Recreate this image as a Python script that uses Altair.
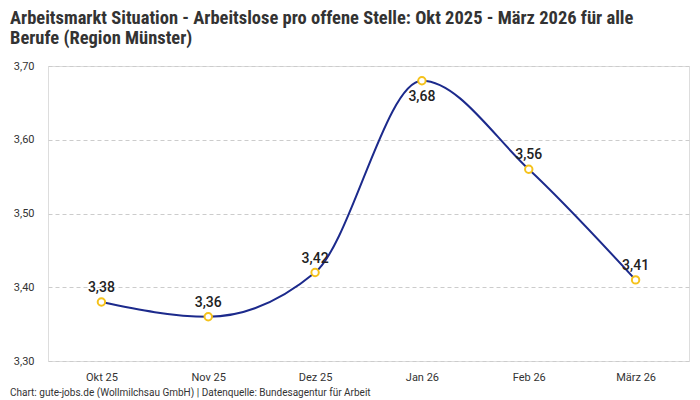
import altair as alt
import pandas as pd

months = ["Okt 25", "Nov 25", "Dez 25", "Jan 26", "Feb 26", "März 26"]
values = [3.38, 3.36, 3.42, 3.68, 3.56, 3.41]
label_pos = ["above", "above", "above", "below", "above", "above"]
y_ticks = [3.30, 3.40, 3.50, 3.60, 3.70]

title_lines = [
    "Arbeitsmarkt Situation - Arbeitslose pro offene Stelle: Okt 2025 - März 2026 für alle",
    "Berufe (Region Münster)",
]
footer = "Chart: gute-jobs.de (Wollmilchsau GmbH) | Datenquelle: Bundesagentur für Arbeit"

df = pd.DataFrame({"Monat": months, "Wert": values, "pos": label_pos})

BODY = "Roboto"
W, H = 641, 295

x = alt.X("Monat:N", sort=months, title=None,
          scale=alt.Scale(type="point", padding=0.5),
          axis=alt.Axis(labelAngle=0, labelFontSize=11, labelColor="#333333",
                        labelFont=BODY, domain=False, ticks=False, labelPadding=10,
                        grid=False))
y = alt.Y("Wert:Q", title=None,
          scale=alt.Scale(domain=[3.30, 3.70], nice=False, zero=False),
          axis=alt.Axis(values=y_ticks, labelExpr="replace(format(datum.value, '.2f'), '.', ',')",
                        labelFontSize=11, labelColor="#333333", labelFont=BODY,
                        domain=False, ticks=False, labelPadding=14,
                        grid=True, gridColor="#cccccc", gridDash=[4, 3], gridWidth=1))

base = alt.Chart(df).encode(x=x, y=y)

line = base.mark_line(interpolate="monotone", color="#1c2a8c", strokeWidth=2)
points = base.mark_point(shape="circle", filled=False, fill="white", fillOpacity=1,
                         stroke="#f5c21b", strokeWidth=2, size=55, opacity=1)

lab = base.transform_calculate(
    txt="replace(format(datum.Wert, '.2f'), '.', ',')"
)
labels_above = lab.transform_filter("datum.pos == 'above'").mark_text(
    dy=-14, fontSize=14, font=BODY, fontWeight=500, color="#222222"
).encode(text="txt:N")
labels_below = lab.transform_filter("datum.pos == 'below'").mark_text(
    dy=16, fontSize=14, font=BODY, fontWeight=500, color="#222222"
).encode(text="txt:N")

foot = alt.Chart(pd.DataFrame({"t": [footer]})).mark_text(
    align="left", baseline="middle", fontSize=10, font=BODY, color="#333333"
).encode(text="t:N", x=alt.value(-38), y=alt.value(H + 32))

chart = alt.layer(line, points, labels_above, labels_below, foot).properties(
    width=W, height=H,
    padding={"left": 2, "top": 0, "right": 3, "bottom": 0},
    title=alt.TitleParams(text=title_lines, anchor="start", frame="bounds",
                          font="Roboto Condensed, DejaVu Sans Condensed, sans-serif",
                          fontSize=18.5, fontWeight="bold",
                          color="#333333", lineHeight=20, offset=13),
).configure_view(stroke=None).configure(background="white")

chart.save("out.html", embed_options={"renderer": "svg", "actions": False})
